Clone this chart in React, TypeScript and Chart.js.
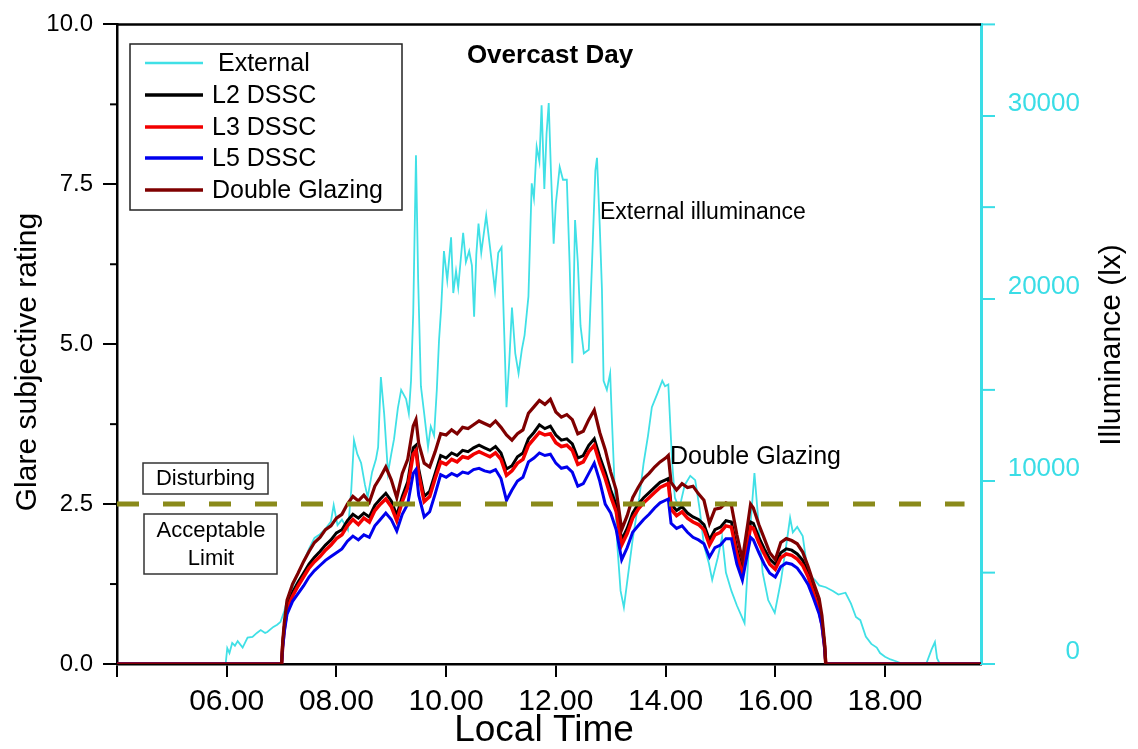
import React, { useEffect, useRef } from 'react';
import { Chart, registerables } from 'chart.js';

Chart.register(...registerables);

// ---------------- DATA ----------------
const seriesLabels = ['External', 'L2 DSSC', 'L3 DSSC', 'L5 DSSC', 'Double Glazing'];

// Local time (h) for the glare series
const glareTimes = [
  4.0, 7.0, 7.02, 7.05, 7.1, 7.2, 7.3, 7.4, 7.5, 7.6,
  7.7, 7.8, 7.9, 8.0, 8.1, 8.2, 8.3, 8.4, 8.5, 8.6,
  8.7, 8.8, 8.9, 9.0, 9.1, 9.2, 9.3, 9.4, 9.45, 9.5,
  9.6, 9.7, 9.8, 9.9, 10.0, 10.1, 10.2, 10.3, 10.4, 10.5,
  10.6, 10.7, 10.8, 10.9, 11.0, 11.1, 11.2, 11.3, 11.4, 11.5,
  11.6, 11.7, 11.8, 11.9, 12.0, 12.1, 12.2, 12.3, 12.4, 12.5,
  12.6, 12.7, 12.8, 12.9, 13.0, 13.1, 13.2, 13.3, 13.4, 13.5,
  13.6, 13.7, 13.8, 13.9, 14.0, 14.05, 14.1, 14.2, 14.3, 14.4,
  14.5, 14.6, 14.7, 14.8, 14.9, 15.0, 15.1, 15.2, 15.3, 15.4,
  15.5, 15.55, 15.6, 15.7, 15.8, 15.9, 16.0, 16.1, 16.2, 16.3,
  16.4, 16.5, 16.6, 16.7, 16.8, 16.85, 16.9, 16.92, 19.75,
];

const doubleGlazing = [
  0, 0, 0.35, 0.65, 1.0, 1.25, 1.42, 1.6, 1.76, 1.9,
  1.98, 2.1, 2.16, 2.28, 2.34, 2.5, 2.62, 2.55, 2.64, 2.53,
  2.78, 2.92, 3.08, 2.88, 2.6, 2.98, 3.2, 3.72, 3.82, 3.45,
  3.14, 3.08, 3.32, 3.6, 3.58, 3.66, 3.6, 3.7, 3.68, 3.74,
  3.8, 3.76, 3.72, 3.8, 3.7, 3.58, 3.5, 3.6, 3.66, 3.92,
  4.02, 4.12, 4.06, 4.14, 3.94, 3.86, 3.9, 3.82, 3.6, 3.64,
  3.82, 3.97, 3.62, 3.35, 3.0, 2.72, 2.1, 2.32, 2.6, 2.76,
  2.9, 2.98, 3.08, 3.16, 3.22, 3.26, 2.84, 2.72, 2.82, 2.76,
  2.78, 2.66, 2.56, 2.2, 2.42, 2.44, 2.52, 2.48, 2.02, 1.63,
  2.2, 2.5, 2.44, 2.18, 1.96, 1.74, 1.63, 1.9, 1.96, 1.93,
  1.88, 1.75, 1.52, 1.26, 1.02, 0.76, 0.32, 0, 0,
];

const l2Dssc = [
  0, 0, 0.3, 0.58, 0.9, 1.12, 1.28, 1.42, 1.56, 1.67,
  1.76, 1.86, 1.94, 2.05, 2.1, 2.24, 2.34, 2.28, 2.36, 2.3,
  2.48, 2.58, 2.67, 2.55, 2.32, 2.62, 2.85, 3.38, 3.42, 3.05,
  2.62, 2.7, 2.98, 3.26, 3.22, 3.3, 3.26, 3.34, 3.32, 3.38,
  3.42, 3.38, 3.34, 3.4, 3.3, 3.05, 3.1, 3.24, 3.3, 3.52,
  3.62, 3.74, 3.68, 3.72, 3.58, 3.5, 3.52, 3.44, 3.22, 3.26,
  3.42, 3.52, 3.24, 3.0, 2.72, 2.48, 1.94, 2.12, 2.36, 2.5,
  2.6, 2.68, 2.76, 2.84, 2.88, 2.9, 2.5, 2.4, 2.46, 2.36,
  2.3, 2.26, 2.18, 1.94, 2.1, 2.14, 2.24, 2.22, 1.8, 1.47,
  1.98, 2.22, 2.2, 1.98, 1.8, 1.64, 1.56, 1.74, 1.8, 1.78,
  1.72, 1.62, 1.42, 1.16, 0.88, 0.66, 0.28, 0, 0,
];

const l3Dssc = [
  0, 0, 0.28, 0.55, 0.86, 1.06, 1.22, 1.36, 1.5, 1.6,
  1.68, 1.78, 1.86, 1.96, 2.02, 2.16, 2.26, 2.18, 2.28, 2.22,
  2.4, 2.5, 2.58, 2.46, 2.24, 2.54, 2.76, 3.28, 3.34, 2.96,
  2.54, 2.62, 2.9, 3.16, 3.12, 3.2, 3.16, 3.24, 3.22, 3.28,
  3.32, 3.28, 3.24, 3.3, 3.2, 2.95, 3.02, 3.14, 3.2, 3.42,
  3.52, 3.62, 3.58, 3.6, 3.46, 3.4, 3.42, 3.34, 3.12, 3.16,
  3.32, 3.42, 3.14, 2.9, 2.62, 2.38, 1.86, 2.04, 2.28, 2.42,
  2.52, 2.6, 2.68, 2.76, 2.8, 2.82, 2.42, 2.32, 2.38, 2.28,
  2.22, 2.18, 2.1, 1.86, 2.02, 2.06, 2.16, 2.14, 1.72, 1.4,
  1.9, 2.14, 2.12, 1.9, 1.72, 1.56, 1.48, 1.66, 1.72, 1.7,
  1.64, 1.54, 1.36, 1.1, 0.84, 0.62, 0.26, 0, 0,
];

const l5Dssc = [
  0, 0, 0.25, 0.5, 0.78, 0.98, 1.1, 1.22, 1.36, 1.46,
  1.54, 1.62, 1.68, 1.74, 1.8, 1.92, 2.0, 1.94, 2.02, 1.98,
  2.16, 2.26, 2.36, 2.26, 2.08, 2.34, 2.5, 2.98, 3.04, 2.64,
  2.3, 2.38, 2.66, 2.96, 2.92, 2.98, 2.94, 3.0, 2.98, 3.04,
  3.06, 3.02, 3.0, 3.04, 2.9, 2.56, 2.72, 2.86, 2.92, 3.16,
  3.22, 3.3, 3.26, 3.28, 3.14, 3.06, 3.08, 3.0, 2.78, 2.82,
  2.98, 3.14, 2.86, 2.5, 2.36, 2.1, 1.63, 1.82, 2.06, 2.16,
  2.26, 2.34, 2.44, 2.52, 2.56, 2.58, 2.2, 2.12, 2.16, 2.06,
  1.98, 1.94, 1.88, 1.67, 1.82, 1.86, 1.96, 1.96, 1.56, 1.31,
  1.76, 1.98, 1.94, 1.74, 1.56, 1.42, 1.36, 1.52, 1.58, 1.56,
  1.5, 1.38, 1.24, 1.02, 0.78, 0.6, 0.24, 0, 0,
];

// External illuminance (lx) vs local time (h)
const externalTimes = [
  4.0, 5.98, 6.01, 6.05, 6.1, 6.15, 6.2, 6.29, 6.38, 6.47,
  6.55, 6.62, 6.7, 6.74, 6.85, 6.92, 6.98, 7.05, 7.1, 7.2,
  7.3, 7.4, 7.5, 7.6, 7.7, 7.8, 7.9, 7.95, 8.02, 8.1,
  8.21, 8.27, 8.32, 8.38, 8.45, 8.52, 8.57, 8.65, 8.72, 8.76,
  8.81, 8.87, 8.94, 9.0, 9.05, 9.12, 9.18, 9.27, 9.32, 9.36,
  9.4, 9.45, 9.49, 9.54, 9.6, 9.67, 9.72, 9.78, 9.83, 9.87,
  9.91, 9.96, 10.02, 10.09, 10.13, 10.18, 10.22, 10.31, 10.36, 10.42,
  10.47, 10.51, 10.55, 10.59, 10.64, 10.73, 10.8, 10.85, 10.89, 10.95,
  11.01, 11.06, 11.1, 11.15, 11.2, 11.26, 11.32, 11.38, 11.43, 11.5,
  11.56, 11.6, 11.65, 11.7, 11.74, 11.79, 11.83, 11.87, 11.91, 11.96,
  12.0, 12.07, 12.13, 12.2, 12.25, 12.3, 12.35, 12.4, 12.45, 12.51,
  12.6, 12.66, 12.72, 12.75, 12.8, 12.84, 12.87, 12.93, 12.99, 13.02,
  13.08, 13.12, 13.18, 13.24, 13.3, 13.4, 13.52, 13.6, 13.68, 13.75,
  13.85, 13.94, 13.99, 14.05, 14.12, 14.17, 14.25, 14.35, 14.45, 14.54,
  14.62, 14.7, 14.79, 14.85, 14.95, 15.03, 15.1, 15.2, 15.3, 15.44,
  15.52, 15.62, 15.7, 15.77, 15.87, 15.99, 16.1, 16.2, 16.27, 16.32,
  16.4, 16.5, 16.57, 16.64, 16.72, 16.8, 16.92, 17.05, 17.15, 17.28,
  17.38, 17.47, 17.55, 17.65, 17.75, 17.85, 17.91, 18.0, 18.1, 18.2,
  18.33, 18.75, 18.85, 18.91, 18.95, 19.0, 19.75,
];

const externalLux = [
  0, 0, 870, 600, 1150, 1000, 1250, 900, 1450, 1480,
  1700, 1860, 1700, 1750, 2030, 2150, 2300, 2900, 3500, 4200,
  4950, 5600, 6300, 6900, 7100, 7400, 7800, 8700, 7600, 7900,
  7330, 9500, 12250, 11500, 11000, 9800, 9130, 10500, 11200, 11870,
  15700, 13700, 10450, 11500, 12300, 14000, 15000, 14500, 13700, 15500,
  19200, 27840, 21000, 15200, 13700, 11870, 13000, 12500, 15000, 17700,
  19500, 22600, 21000, 23350, 20300, 21500, 20600, 23600, 22000, 22600,
  21800, 19000, 22400, 24100, 22500, 24550, 22800, 21500, 20450, 22500,
  22800, 18000, 14050, 16500, 19500, 17000, 15900, 17200, 18000, 20100,
  26300, 25500, 28300, 27500, 30570, 26000, 29000, 30700, 27000, 23000,
  25200, 27200, 26500, 26500, 22000, 16460, 24300, 22000, 18500, 17000,
  17200, 22000, 27000, 27700, 24000, 20500, 15500, 15000, 15900, 13500,
  9100, 6500, 4000, 3100, 4500, 6800, 9100, 11000, 12500, 14050,
  14800, 15500, 15200, 15300, 11000, 9100, 8500, 9800, 10300, 10060,
  8500, 6500, 5500, 4600, 5800, 6950, 5000, 4000, 3200, 2240,
  6500, 10450, 7500, 5000, 3500, 2800, 4500, 6500, 8000, 7200,
  7500, 7000, 5500, 4800, 4600, 4300, 4200, 4000, 3800, 3900,
  3300, 2570, 2400, 1500, 1100, 900, 600, 400, 250, 150,
  0, 0, 800, 1200, 300, 0, 0,
];

const acceptableLimit = 2.5;
const limitSpan = [4.0, 19.45];
const leftMinorTicks = [1.25, 3.75, 6.25, 8.75];
const rightMajorTicks = [0, 10000, 20000, 30000];
const rightMinorTicks = [5000, 15000, 25000, 35000];

const chartTitle = 'Overcast Day';
const xTitle = 'Local Time';
const leftTitle = 'Glare subjective rating';
const rightTitle = 'Illuminance (lx)';
const noteExternal = 'External illuminance';
const noteGlazing = 'Double Glazing';
const zoneAbove = ['Disturbing'];
const zoneBelow = ['Acceptable', 'Limit'];

// ---------------- STYLE ----------------
const FONT = "'Liberation Sans', Arial, Helvetica, sans-serif";
const CYAN = '#40e0e6';
const AXIS_CYAN = '#3adde6';
const BLACK = '#000000';
const RED = '#f20000';
const BLUE = '#0000ee';
const DARKRED = '#7f0000';
const OLIVE = '#8a8a1a';

const seriesColors = [CYAN, BLACK, RED, BLUE, DARKRED];
const seriesWidths = [1.8, 3, 3.5, 3, 3.2];

function toPoints(xs: number[], ys: number[]) {
  return xs.map((x, i) => ({ x, y: ys[i] }));
}

function line(ctx: CanvasRenderingContext2D, x1: number, y1: number, x2: number, y2: number) {
  ctx.beginPath();
  ctx.moveTo(x1, y1);
  ctx.lineTo(x2, y2);
  ctx.stroke();
}

const overlayPlugin = {
  id: 'overlay',
  afterDraw(chart: any) {
    const ctx: CanvasRenderingContext2D = chart.ctx;
    const a = chart.chartArea;
    const ys = chart.scales.y;
    const y1 = chart.scales.y1;
    ctx.save();
    ctx.lineCap = 'butt';

    // top frame
    ctx.strokeStyle = BLACK;
    ctx.lineWidth = 2.5;
    line(ctx, a.left - 1, a.top, a.right, a.top);

    // minor ticks
    ctx.lineWidth = 2;
    for (const v of leftMinorTicks) {
      const py = ys.getPixelForValue(v);
      line(ctx, a.left - 7, py, a.left, py);
    }
    ctx.strokeStyle = AXIS_CYAN;
    for (const v of rightMinorTicks) {
      const py = y1.getPixelForValue(v);
      line(ctx, a.right, py, a.right + 14, py);
    }

    // right axis tick labels (right aligned, raised above the tick as in the original)
    ctx.fillStyle = AXIS_CYAN;
    ctx.font = `26px ${FONT}`;
    ctx.textAlign = 'right';
    ctx.textBaseline = 'middle';
    for (const v of rightMajorTicks) {
      const py = y1.getPixelForValue(v);
      ctx.fillText(String(v), 1080, py - 12);
    }

    // axis titles
    ctx.fillStyle = BLACK;
    ctx.textAlign = 'center';
    ctx.textBaseline = 'middle';
    ctx.font = `30px ${FONT}`;
    ctx.save();
    ctx.translate(28, 362);
    ctx.rotate(-Math.PI / 2);
    ctx.fillText(leftTitle, 0, 0);
    ctx.restore();
    ctx.save();
    ctx.translate(1112, 345);
    ctx.rotate(-Math.PI / 2);
    ctx.fillText(rightTitle, 0, 0);
    ctx.restore();
    ctx.font = `37px ${FONT}`;
    ctx.fillText(xTitle, 544, 731);

    // chart title
    ctx.font = `bold 26px ${FONT}`;
    ctx.fillText(chartTitle, 550, 56);

    // notes
    ctx.textAlign = 'left';
    ctx.font = `23px ${FONT}`;
    ctx.fillText(noteExternal, 600, 213);
    ctx.font = `25px ${FONT}`;
    ctx.fillText(noteGlazing, 670, 457);

    // zone boxes
    ctx.lineWidth = 1.5;
    ctx.strokeStyle = '#333';
    ctx.fillStyle = '#fff';
    ctx.fillRect(143, 463, 125, 31);
    ctx.strokeRect(143, 463, 125, 31);
    ctx.fillRect(144, 514, 133, 60);
    ctx.strokeRect(144, 514, 133, 60);
    ctx.fillStyle = BLACK;
    ctx.textAlign = 'center';
    ctx.font = `22px ${FONT}`;
    ctx.fillText(zoneAbove[0], 205.5, 479);
    ctx.fillText(zoneBelow[0], 211, 531);
    ctx.fillText(zoneBelow[1], 211, 559);

    // legend
    ctx.fillStyle = '#fff';
    ctx.fillRect(130, 44, 272, 166);
    ctx.strokeStyle = '#222';
    ctx.lineWidth = 1.5;
    ctx.strokeRect(130, 44, 272, 166);
    const rows = [63, 95, 127, 158, 190];
    ctx.font = `25px ${FONT}`;
    ctx.textAlign = 'left';
    ctx.fillStyle = BLACK;
    seriesLabels.forEach((lab, i) => {
      ctx.strokeStyle = seriesColors[i];
      ctx.lineWidth = i === 0 ? 2.5 : 3.5;
      line(ctx, 145, rows[i], 203, rows[i]);
      ctx.fillText(lab, i === 0 ? 218 : 212, rows[i] + 1);
    });

    ctx.restore();
  },
};

export default function App() {
  const ref = useRef<HTMLCanvasElement>(null);

  useEffect(() => {
    const canvas = ref.current;
    if (!canvas) return;
    const seriesData = [
      toPoints(externalTimes, externalLux),
      toPoints(glareTimes, l2Dssc),
      toPoints(glareTimes, l3Dssc),
      toPoints(glareTimes, l5Dssc),
      toPoints(glareTimes, doubleGlazing),
    ];
    const orders = [6, 5, 4, 3, 2];
    const datasets: any[] = seriesLabels.map((lab, i) => ({
      label: lab,
      data: seriesData[i],
      borderColor: seriesColors[i],
      backgroundColor: seriesColors[i],
      borderWidth: seriesWidths[i],
      pointRadius: 0,
      tension: 0,
      fill: false,
      order: orders[i],
      yAxisID: i === 0 ? 'y1' : 'y',
    }));
    datasets.push({
      label: 'limit',
      data: limitSpan.map((x) => ({ x, y: acceptableLimit })),
      borderColor: OLIVE,
      borderWidth: 5,
      borderDash: [22, 24],
      pointRadius: 0,
      fill: false,
      order: 0,
      yAxisID: 'y',
    });

    const chart = new Chart(canvas, {
      type: 'line',
      data: { datasets },
      options: {
        responsive: false,
        animation: false,
        devicePixelRatio: 1,
        layout: { padding: { top: 24, left: 0, right: 0, bottom: 0 } },
        plugins: {
          legend: { display: false },
          tooltip: { enabled: false },
          title: { display: false },
        },
        scales: {
          x: {
            type: 'linear',
            min: 4,
            max: 19.75,
            afterFit: (s: any) => {
              s.height = 85;
            },
            ticks: {
              stepSize: 2,
              includeBounds: false,
              autoSkip: false,
              maxRotation: 0,
              color: BLACK,
              padding: 7,
              font: { family: FONT, size: 30 },
              callback: (v: any) => {
                const n = Number(v);
                if (n === 4) return '';
                return (n < 10 ? '0' : '') + n + '.00';
              },
            },
            grid: { drawOnChartArea: false, drawTicks: true, tickLength: 13, color: BLACK, lineWidth: 2 },
            border: { display: true, color: BLACK, width: 2.5 },
          },
          y: {
            type: 'linear',
            position: 'left',
            min: 0,
            max: 10,
            afterFit: (s: any) => {
              s.width = 117;
            },
            ticks: {
              stepSize: 2.5,
              includeBounds: false,
              color: BLACK,
              padding: 10,
              font: { family: FONT, size: 24 },
              callback: (v: any) => Number(v).toFixed(1),
            },
            grid: { drawOnChartArea: false, drawTicks: true, tickLength: 14, color: BLACK, lineWidth: 2 },
            border: { display: true, color: BLACK, width: 2.5 },
          },
          y1: {
            type: 'linear',
            position: 'right',
            min: 0,
            max: 35000,
            afterFit: (s: any) => {
              s.width = 157;
            },
            afterBuildTicks: (s: any) => {
              s.ticks = rightMajorTicks.map((v) => ({ value: v }));
            },
            ticks: {
              display: false,
              autoSkip: false,
            },
            grid: { drawOnChartArea: false, drawTicks: true, tickLength: 14, color: AXIS_CYAN, lineWidth: 2 },
            border: { display: true, color: AXIS_CYAN, width: 3 },
          },
        },
      },
      plugins: [overlayPlugin],
    } as any);

    return () => {
      chart.destroy();
    };
  }, []);

  return (
    <div style={{ position: 'absolute', left: 0, top: 0, width: 1138, height: 749, background: '#fff' }}>
      <canvas ref={ref} width={1138} height={749} style={{ display: 'block' }} />
    </div>
  );
}
